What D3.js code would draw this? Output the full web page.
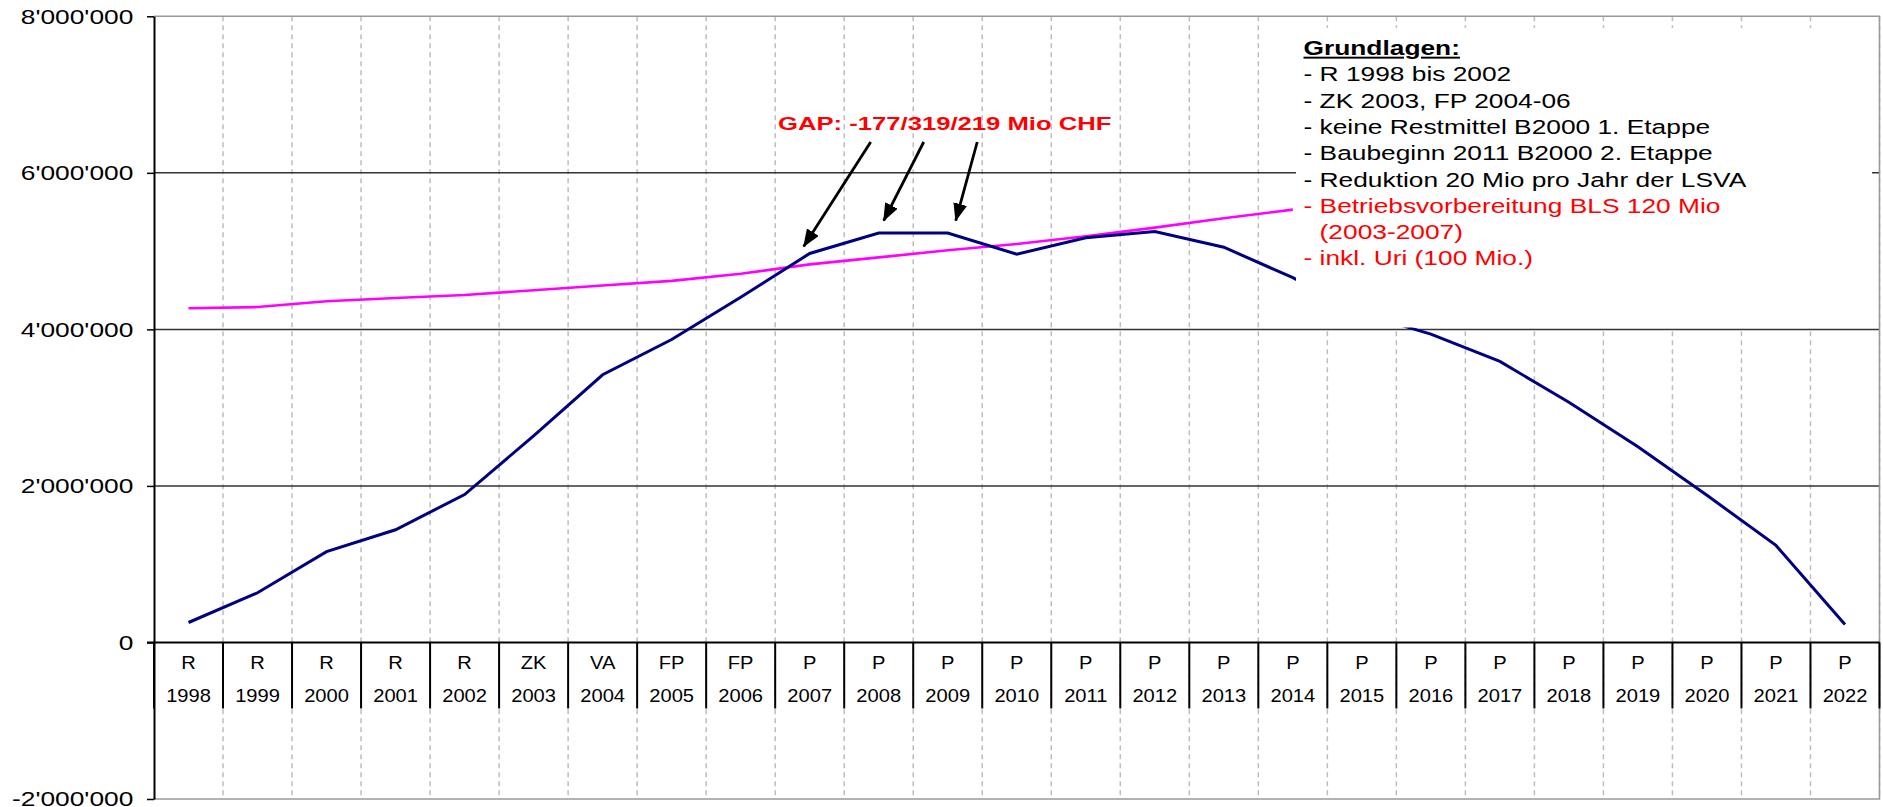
<!DOCTYPE html>
<html>
<head>
<meta charset="utf-8">
<script src="https://cdn.jsdelivr.net/npm/d3@7"></script>
<style>
  body { margin: 0; background: #fff; }
  svg { display: block; font-family: "Liberation Sans", Arial, sans-serif; }
</style>
</head>
<body>
<div id="chart"></div>
<script>
/* Data */
const years = ['1998','1999','2000','2001','2002','2003','2004','2005','2006','2007','2008','2009','2010',
  '2011','2012','2013','2014','2015','2016','2017','2018','2019','2020','2021','2022']
const phases = ['R','R','R','R','R','ZK','VA','FP','FP','P','P','P','P',
  'P','P','P','P','P','P','P','P','P','P','P','P']
// Fondsstand (navy line)
const fondsstand = [255000, 635000, 1160000, 1440000, 1890000, 2640000, 3420000, 3870000, 4410000, 4970000,
  5230000, 5230000, 4960000, 5170000, 5250000, 5050000, 4660000, 4200000, 3940000, 3590000,
  3070000, 2500000, 1880000, 1240000, 230000]
// Bevorschussungslimite (magenta line), 1998-2014
const limite = [4270000, 4285000, 4360000, 4400000, 4440000, 4500000, 4560000, 4620000, 4710000, 4830000,
  4920000, 5010000, 5090000, 5190000, 5300000, 5420000, 5530000]
const yTicks = [-2000000, 0, 2000000, 4000000, 6000000, 8000000]

const gapLabel = 'GAP: -177/319/219 Mio CHF'
const gapYears = ['2007','2008','2009']

const noteLines = ['Grundlagen:', '- R 1998 bis 2002', '- ZK 2003, FP 2004-06', '- keine Restmittel B2000 1. Etappe',
  '- Baubeginn 2011 B2000 2. Etappe', '- Reduktion 20 Mio pro Jahr der LSVA',
  '- Betriebsvorbereitung BLS 120 Mio', '(2003-2007)', '- inkl. Uri (100 Mio.)']
const noteColors = ['#000','#000','#000','#000','#000','#000','#ff0000','#ff0000','#ff0000']

/* Layout */
const W = 1883, H = 807
const plot = { left: 154, right: 1879.5, top: 16.3, bottom: 799 }
const box = { x: 1296, y: 28, w: 576, h: 299.5 }
const SX = 1.35 // the reference text is stretched horizontally

const fmt = d3.formatLocale({decimal: '.', thousands: "'", grouping: [3], currency: ['', ''], minus: '-'}).format(',d')

const x = d3.scaleBand().domain(years).range([plot.left, plot.right]).padding(0)
const y = d3.scaleLinear().domain([-2000000, 8000000]).range([plot.bottom, plot.top])
const cx = d => x(d) + x.bandwidth() / 2

const svg = d3.select('#chart').append('svg')
  .attr('width', W)
  .attr('height', H)

/* Vertical dashed gridlines on the category boundaries */
svg.append('g').selectAll('line').data(years).join('line')
  .attr('x1', d => x(d) + x.bandwidth())
  .attr('x2', d => x(d) + x.bandwidth())
  .attr('y1', plot.top)
  .attr('y2', plot.bottom)
  .attr('stroke', '#bdbdbd')
  .attr('stroke-width', 1.5)
  .attr('stroke-dasharray', '5,4')

/* Horizontal gridlines */
svg.append('g').selectAll('line').data(yTicks.filter(d => d > 0 && d < 8000000)).join('line')
  .attr('x1', plot.left).attr('x2', plot.right)
  .attr('y1', d => y(d)).attr('y2', d => y(d))
  .attr('stroke', '#333')
  .attr('stroke-width', 1.5)

/* Plot border (top, right, bottom) */
svg.append('path')
  .attr('d', `M${plot.left},${y(8000000)}H${plot.right}V${y(-2000000)}H${plot.left}`)
  .attr('fill', 'none')
  .attr('stroke', '#999')
  .attr('stroke-width', 1.5)

/* Series */
const line = d3.line().x((d, i) => cx(years[i])).y(d => y(d))
svg.append('path').datum(limite)
  .attr('d', line)
  .attr('fill', 'none')
  .attr('stroke', '#ff00ff')
  .attr('stroke-width', 2.6)
svg.append('path').datum(fondsstand)
  .attr('d', line)
  .attr('fill', 'none')
  .attr('stroke', '#000080')
  .attr('stroke-width', 3)

/* Text box with the assumptions */
svg.append('rect')
  .attr('x', box.x).attr('y', box.y)
  .attr('width', box.w).attr('height', box.h)
  .attr('fill', '#fff')

const notes = svg.append('g').attr('class', 'notes')
const indent = (() => {
  const t = notes.append('text').attr('font-size', 19.5).style('white-space', 'pre').text('- ')
  const w = t.node().getComputedTextLength()
  t.remove()
  return w * SX
})()
noteLines.forEach((txt, i) => {
  const tx = box.x + 7.5 + (txt.startsWith('(') ? indent : 0)
  const ty = 55 + i * 26.3
  notes.append('text')
    .attr('transform', `translate(${tx},${ty}) scale(${SX},1)`)
    .attr('font-size', 19.5)
    .attr('font-weight', i === 0 ? 'bold' : 'normal')
    .attr('text-decoration', i === 0 ? 'underline' : null)
    .attr('fill', noteColors[i])
    .text(txt)
})

/* Y axis */
const yAxis = svg.append('g')
  .attr('transform', `translate(${plot.left},0)`)
  .call(d3.axisLeft(y).tickValues(yTicks).tickFormat(fmt).tickSize(7).tickSizeOuter(0))
yAxis.select('.domain').attr('stroke', '#000').attr('stroke-width', 2)
yAxis.selectAll('.tick line').attr('stroke', '#000').attr('stroke-width', 1.5)
yAxis.selectAll('.tick text')
  .attr('x', null).attr('dy', null)
  .attr('transform', `translate(-20.7,6.9) scale(${SX},1)`)
  .attr('font-size', 19.5)
  .attr('font-family', '"Liberation Sans", Arial, sans-serif')
  .attr('fill', '#000')

/* X axis: zero line, boundary ticks and two-line labels */
const xAxis = svg.append('g')
xAxis.append('line')
  .attr('x1', plot.left - 7).attr('x2', plot.right)
  .attr('y1', y(0)).attr('y2', y(0))
  .attr('stroke', '#000').attr('stroke-width', 2)
xAxis.selectAll('.sep').data(years).join('line')
  .attr('class', 'sep')
  .attr('x1', d => x(d) + x.bandwidth()).attr('x2', d => x(d) + x.bandwidth())
  .attr('y1', y(0)).attr('y2', y(0) + 66)
  .attr('stroke', '#000').attr('stroke-width', 2)
xAxis.append('line')
  .attr('x1', plot.left).attr('x2', plot.left)
  .attr('y1', y(0)).attr('y2', y(0) + 66)
  .attr('stroke', '#000').attr('stroke-width', 2)
xAxis.selectAll('.phase').data(years).join('text')
  .attr('class', 'phase')
  .attr('transform', d => `translate(${cx(d)},${y(0) + 26.5}) scale(1.15,1)`)
  .attr('text-anchor', 'middle')
  .attr('font-size', 17.5)
  .text((d, i) => phases[i])
xAxis.selectAll('.year').data(years).join('text')
  .attr('class', 'year')
  .attr('transform', d => `translate(${cx(d)},${y(0) + 60}) scale(1.15,1)`)
  .attr('text-anchor', 'middle')
  .attr('font-size', 17.5)
  .text(d => d)

/* GAP annotation with arrows pointing at the peak years */
svg.append('defs').append('marker')
  .attr('id', 'head')
  .attr('markerUnits', 'userSpaceOnUse')
  .attr('viewBox', '0 0 18 14')
  .attr('markerWidth', 18).attr('markerHeight', 14)
  .attr('refX', 17).attr('refY', 7)
  .attr('orient', 'auto')
  .append('path')
  .attr('d', 'M0,0L18,7L0,14Z')
  .attr('fill', '#000')

const gapX = 778, gapY = 130
svg.append('text')
  .attr('transform', `translate(${gapX},${gapY}) scale(${SX},1)`)
  .attr('font-size', 19)
  .attr('font-weight', 'bold')
  .attr('fill', '#ff0000')
  .text(gapLabel)

// tail offset from the data point, tip offset from the data point
const arrowTail = [[61, 0], [45, 0], [29.5, 0]]
const arrowTip = [[-6, -7], [5, -12.5], [8, -12.5]]
svg.append('g').selectAll('line').data(gapYears).join('line')
  .attr('x1', (d, i) => cx(d) + arrowTail[i][0])
  .attr('y1', gapY + 12)
  .attr('x2', (d, i) => cx(d) + arrowTip[i][0])
  .attr('y2', d => y(fondsstand[years.indexOf(d)]) + arrowTip[gapYears.indexOf(d)][1])
  .attr('stroke', '#000')
  .attr('stroke-width', 2.8)
  .attr('marker-end', 'url(#head)')
</script>
</body>
</html>
